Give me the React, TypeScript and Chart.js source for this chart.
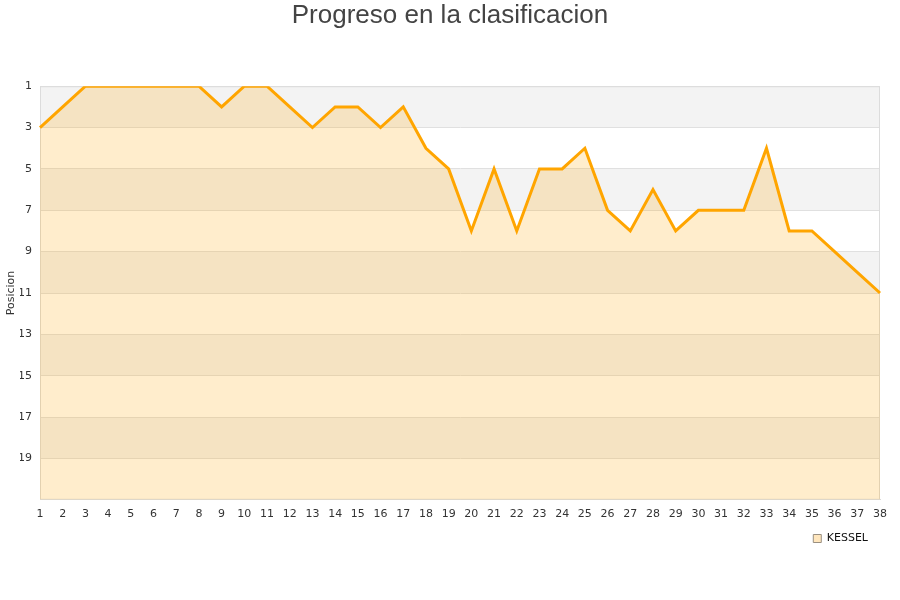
import React, { useRef, useEffect } from 'react';
import { Chart, registerables } from 'chart.js';

Chart.register(...registerables);

const jornadas = Array.from({ length: 38 }, (_, i) => String(i + 1));
const posiciones = [
  3, 2, 1, 1, 1, 1, 1, 1, 2, 1, 1, 2, 3, 2, 2, 3, 2, 4, 5, 8,
  5, 8, 5, 5, 4, 7, 8, 6, 8, 7, 7, 7, 4, 8, 8, 9, 10, 11,
];
const equipo = 'KESSEL';
const tituloGrafico = 'Progreso en la clasificacion';
const tituloEje = 'Posicion';

// grey bands behind everything, every other 2-position strip
const bandsPlugin = {
  id: 'bands',
  beforeDraw(chart: any) {
    const { ctx, chartArea, scales } = chart;
    const y = scales.y;
    ctx.save();
    ctx.fillStyle = '#f3f3f3';
    for (let v = 1; v < 21; v += 4) {
      const a = y.getPixelForValue(v);
      const b = y.getPixelForValue(v + 2);
      ctx.fillRect(chartArea.left, Math.min(a, b), chartArea.right - chartArea.left, Math.abs(b - a));
    }
    ctx.restore();
  },
  beforeDatasetsDraw(chart: any) {
    const { ctx, chartArea } = chart;
    ctx.save();
    ctx.strokeStyle = '#dcdcdc';
    ctx.lineWidth = 1;
    ctx.strokeRect(chartArea.left + 0.5, chartArea.top + 0.5, chartArea.right - chartArea.left - 1, chartArea.bottom - chartArea.top - 1);
    ctx.restore();
  },
};

const App = () => {
  const chartRef = useRef<any>(null);
  const canvasRef = useRef<any>(null);

  useEffect(() => {
    document.body.style.margin = '0';
    if (chartRef.current) {
      chartRef.current.destroy();
    }
    const ctx = canvasRef.current.getContext('2d');
    chartRef.current = new Chart(ctx, {
      type: 'line',
      data: {
        labels: jornadas,
        datasets: [
          {
            label: equipo,
            data: posiciones,
            borderColor: '#ffa500',
            backgroundColor: 'rgba(255,165,0,0.2)',
            borderWidth: 3,
            pointRadius: 0,
            tension: 0,
            fill: { value: 21 },
          },
        ],
      },
      options: {
        animation: false,
        responsive: false,
        layout: { padding: { top: 0, right: 20, bottom: 46, left: 20 } },
        plugins: {
          title: {
            display: true,
            text: tituloGrafico,
            color: '#444',
            font: { family: 'Liberation Sans', size: 26, weight: 'normal' },
            padding: { top: 0, bottom: 55 },
          },
          legend: {
            position: 'bottom',
            align: 'end',
            labels: {
              boxWidth: 8,
              boxHeight: 8,
              padding: 12,
              color: '#111',
              font: { family: 'DejaVu Sans', size: 11 },
              generateLabels: (chart: any) =>
                Chart.defaults.plugins.legend.labels.generateLabels(chart).map((l: any) => ({
                  ...l,
                  fillStyle: '#ffe6bd',
                  strokeStyle: '#9a8f80',
                  lineWidth: 1,
                })),
            },
          },
          tooltip: { enabled: false },
        },
        scales: {
          x: {
            offset: false,
            grid: { display: false },
            border: { color: '#d8d8d8' },
            ticks: {
              color: '#333',
              font: { family: 'DejaVu Sans', size: 11 },
              maxRotation: 0,
              autoSkip: false,
              padding: 0,
            },
          },
          y: {
            reverse: true,
            min: 1,
            max: 21,
            grid: { color: '#e0e0e0', drawTicks: false },
            border: { color: '#d8d8d8' },
            title: {
              display: true,
              text: tituloEje,
              color: '#333',
              font: { family: 'DejaVu Sans', size: 11 },
              padding: { top: -15, bottom: 0 },
            },
            ticks: {
              stepSize: 2,
              color: '#333',
              font: { family: 'DejaVu Sans', size: 11 },
              padding: 8,
              callback: (v: any) => (v === 21 ? '' : v),
            },
            afterFit: (scale: any) => {
              scale.width = 20;
            },
          },
        },
      },
      plugins: [bandsPlugin],
    });

    return () => {
      chartRef.current.destroy();
    };
  }, []);

  return <canvas ref={canvasRef} width="900" height="600"></canvas>;
};

export default App;
